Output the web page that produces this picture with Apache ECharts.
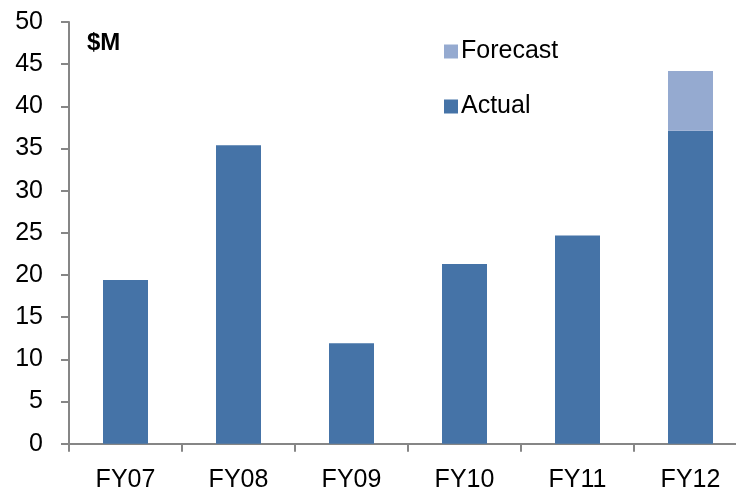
<!DOCTYPE html>
<html>
<head>
<meta charset="utf-8">
<script src="https://cdn.jsdelivr.net/npm/echarts@6/dist/echarts.min.js"></script>
<style>html,body{margin:0;padding:0;background:#fff}#c{width:736px;height:488px}</style>
</head>
<body>
<div id="c"></div>
<script>
const categories = ['FY07','FY08','FY09','FY10','FY11','FY12'];
const actual = [19.4, 35.4, 11.9, 21.3, 24.7, 37.1];
const forecast = [null, null, null, null, null, 7.1];
const yTicks = {min: 0, max: 50, interval: 5};
const unitLabel = '$M';

const FONT = 'Liberation Sans';
const chart = echarts.init(document.getElementById('c'), null, {renderer: 'canvas'});
chart.setOption({
  backgroundColor: '#ffffff',
  animation: false,
  textStyle: {fontFamily: FONT},
  grid: {left: 69, top: 22, width: 678, height: 421.7, containLabel: false, outerBoundsMode: 'none'},
  legend: [
    {data: ['Forecast'], left: 439, top: 34, itemWidth: 14, itemHeight: 14, itemGap: 0,
     icon: 'rect', textStyle: {fontFamily: FONT, fontSize: 25, color: '#000', padding: [0,0,0,-2]}},
    {data: ['Actual'], left: 439, top: 89, itemWidth: 14, itemHeight: 14, itemGap: 0,
     icon: 'rect', textStyle: {fontFamily: FONT, fontSize: 25, color: '#000', padding: [0,0,0,-2]}}
  ],
  xAxis: {
    type: 'category', data: categories, boundaryGap: true,
    axisLine: {show: true, lineStyle: {color: '#868686', width: 2}},
    axisTick: {show: true, length: 8, interval: 0, alignWithLabel: false, lineStyle: {color: '#868686', width: 2}},
    axisLabel: {color: '#000', fontSize: 25, margin: 24, fontFamily: FONT, interval: 0},
    splitLine: {show: false}
  },
  yAxis: {
    type: 'value', min: yTicks.min, max: yTicks.max, interval: yTicks.interval,
    axisLine: {show: true, lineStyle: {color: '#868686', width: 2}},
    axisTick: {show: true, length: 8, inside: false, lineStyle: {color: '#868686', width: 2}},
    axisLabel: {color: '#000', fontSize: 25, margin: 26, fontFamily: FONT},
    splitLine: {show: false}
  },
  graphic: [{type: 'text', left: 87, top: 31,
    style: {text: unitLabel, fontFamily: FONT, fontSize: 24, fontWeight: 'bold', fill: '#000'}}],
  series: [
    {name: 'Actual', type: 'bar', stack: 'a', data: actual, barWidth: 45,
     itemStyle: {color: '#4573A7'}},
    {name: 'Forecast', type: 'bar', stack: 'a', data: forecast, barWidth: 45,
     itemStyle: {color: '#95AAD0'}}
  ]
});
</script>
</body>
</html>
